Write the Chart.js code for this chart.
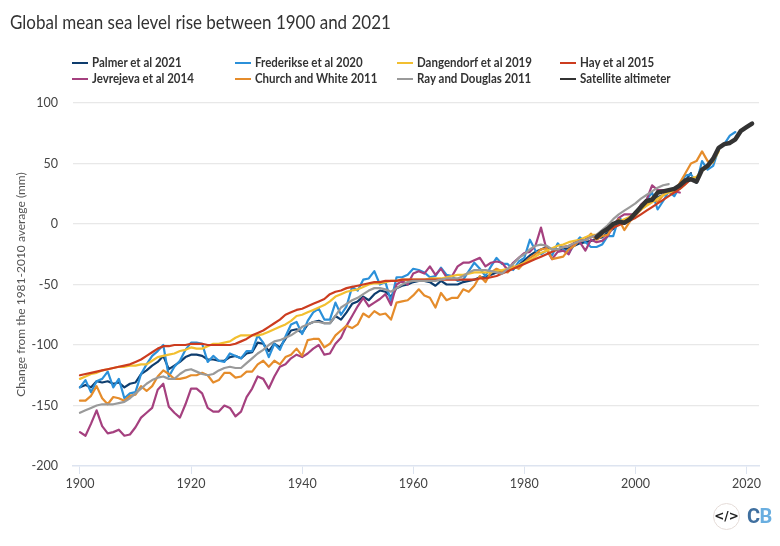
<!DOCTYPE html>
<html>
<head>
<meta charset="utf-8">
<title>Global mean sea level rise</title>
<script src="https://cdn.jsdelivr.net/npm/chart.js@4"></script>
<style>
  body { margin: 0; background: #fff; font-family: Lato, "Noto Sans", sans-serif; color: #333; }
  #wrap { position: relative; width: 780px; height: 546px; overflow: hidden; }
  #chart { position: absolute; left: 0; top: 0; }
  #title { position: absolute; left: 10px; top: 9px; font-size: 20px; font-weight: 400; color: #333; white-space: nowrap;
    transform: scaleX(0.85); transform-origin: left center; }
  .key { position: absolute; font-size: 12.5px; font-weight: 700; color: #333; white-space: nowrap; line-height: 16px; }
  .key i { position: absolute; left: -20px; top: 6.5px; width: 16px; height: 2.5px; }
  .key span { display: inline-block; transform: scaleX(0.92); transform-origin: left center; }
  #embed { position: absolute; left: 713px; top: 503px; width: 25px; height: 25px; border: 1px solid #e5dcd8; border-radius: 50%;
    font: 700 12px/25px "DejaVu Sans", sans-serif; text-align: center; color: #222; }
  #cb { position: absolute; left: 747px; top: 504px; font: 700 20px/24px "Roboto", sans-serif; letter-spacing: -0.5px; }
</style>
</head>
<body>
<div id="wrap">
  <canvas id="chart" width="780" height="546"></canvas>
  <div id="title">Global mean sea level rise between 1900 and 2021</div>
  <div id="legend"></div>
  <div id="embed">&lt;/&gt;</div>
  <div id="cb"><span style="color:#3f6f9f">C</span><span style="color:#69aee0">B</span></div>
</div>
<script>
// values in mm, one per year from the start year of each series
var palmer = [
  -135,-133,-135,-130,-131,-130,-132,-131,-135,-132,
  -131,-124,-121,-117,-114,-109,-120,-117,-114,-110,
  -108,-108,-109,-112,-112,-113,-113,-110,-109,-111,
  -107,-106,-98,-99,-105,-99,-102,-95,-88,-87,
  -90,-83,-81,-80,-82,-82,-76,-79,-73,-66,
  -64,-60,-63,-58,-55,-56,-60,-53,-51,-50,
  -48,-47,-47,-48,-51,-47,-50,-50,-50,-48,
  -47,-46,-44,-44,-42,-40,-39,-38,-37,-34,
  -30,-26,-23,-21,-19,-21,-21,-21,-20,-18,
  -16,-15,-14,-12,-11,-7,-4,0,3,5,
  9,12,16,20,22,24,27,27,30,36,
  42
];
var frederikse = [
  -135,-129,-139,-130,-128,-122,-135,-128,-144,-140,
  -139,-124,-116,-109,-105,-100,-126,-118,-113,-104,
  -98,-98,-99,-114,-109,-113,-114,-107,-109,-111,
  -105,-105,-92,-98,-110,-99,-104,-93,-83,-81,
  -91,-80,-73,-70,-79,-79,-65,-75,-68,-52,
  -55,-46,-45,-39,-50,-48,-64,-44,-44,-42,
  -37,-38,-40,-44,-43,-36,-42,-43,-47,-46,
  -39,-32,-37,-43,-35,-28,-33,-33,-38,-31,
  -28,-13,-22,-25,-22,-26,-16,-21,-24,-17,
  -11,-15,-19,-19,-17,-10,-10,5,2,4,
  8,12,20,26,12,19,27,23,31,40,
  41,34,52,45,48,62,66,73,76
];
var dangendorf = [
  -128,-126,-124,-123,-121,-120,-119,-118,-118,-117,
  -117,-116,-116,-113,-110,-109,-108,-107,-105,-104,
  -102,-103,-103,-101,-99,-99,-98,-97,-94,-92,
  -92,-92,-92,-91,-89,-87,-85,-83,-80,-76,
  -75,-73,-71,-69,-67,-64,-60,-58,-56,-55,
  -54,-52,-50,-49,-49,-48,-47,-47,-46,-46,
  -46,-46,-46,-45,-45,-45,-44,-43,-42,-42,
  -41,-40,-40,-40,-40,-39,-38,-37,-36,-34,
  -32,-30,-27,-24,-22,-20,-18,-17,-15,-14,
  -13,-11,-9,-9,-6,-4,-1,2,4,6,
  9,12,15,18,21,24,26,27,29,33,
  38,39,44,47,52,60
];
var hay = [
  -125,-124,-123,-122,-121,-120,-119,-118,-117,-116,
  -114,-112,-109,-106,-103,-101,-101,-100,-100,-100,
  -99,-99,-99,-100,-100,-100,-100,-100,-99,-97,
  -95,-92,-90,-88,-85,-82,-79,-75,-73,-71,
  -70,-68,-66,-64,-62,-58,-56,-55,-53,-52,
  -51,-50,-49,-48,-48,-47,-47,-47,-46,-46,
  -46,-46,-46,-46,-46,-46,-46,-46,-46,-46,
  -46,-46,-45,-45,-44,-43,-41,-39,-37,-35,
  -33,-31,-29,-27,-25,-23,-21,-19,-18,-16,
  -14,-13,-11,-9,-7,-5,-3,-1,1,3,
  5,8,11,14,17,20,23,26,29,33,
  37
];
var jevrejeva = [
  -172,-175,-165,-154,-167,-173,-172,-170,-175,-174,
  -168,-160,-156,-152,-137,-132,-151,-156,-160,-149,
  -136,-136,-140,-152,-155,-155,-150,-152,-159,-155,
  -143,-136,-126,-128,-136,-126,-118,-116,-111,-108,
  -110,-107,-103,-100,-108,-107,-99,-94,-84,-76,
  -68,-61,-68,-65,-62,-58,-67,-50,-47,-50,
  -41,-39,-41,-35,-42,-37,-44,-43,-35,-32,
  -32,-30,-28,-35,-32,-31,-32,-38,-32,-28,
  -24,-23,-18,-3,-21,-29,-23,-22,-25,-15,
  -15,-22,-13,-15,-14,-10,-2,5,8,8,
  8,16,20,32,28,28,28,27,26
];
var church = [
  -146,-146,-142,-134,-144,-149,-143,-144,-146,-142,
  -141,-134,-138,-134,-126,-121,-124,-128,-128,-127,
  -125,-125,-123,-125,-131,-129,-123,-123,-127,-126,
  -122,-122,-116,-113,-118,-113,-116,-110,-108,-103,
  -109,-96,-95,-95,-102,-99,-92,-88,-84,-86,
  -83,-74,-77,-72,-75,-74,-79,-65,-64,-63,
  -59,-54,-59,-61,-69,-57,-63,-61,-61,-54,
  -56,-51,-43,-48,-40,-37,-39,-40,-35,-37,
  -32,-28,-25,-21,-20,-29,-28,-27,-21,-18,
  -13,-13,-8,-13,-10,-9,-2,4,-5,2,
  7,12,16,22,18,24,27,27,34,42,
  50,52,60,52,51
];
var ray = [
  -156,-154,-152,-150,-149,-149,-149,-148,-147,-144,
  -140,-136,-132,-129,-127,-126,-128,-128,-124,-121,
  -120,-122,-124,-125,-124,-121,-119,-118,-119,-119,
  -115,-111,-107,-104,-100,-97,-96,-94,-92,-89,
  -85,-83,-81,-81,-82,-82,-76,-69,-66,-63,
  -61,-58,-55,-53,-53,-54,-56,-53,-50,-48,
  -47,-47,-47,-47,-47,-46,-45,-45,-45,-43,
  -40,-38,-38,-38,-39,-40,-41,-37,-33,-28,
  -25,-21,-18,-17,-18,-21,-21,-19,-18,-16,
  -14,-13,-11,-9,-5,-1,4,8,11,14,
  17,21,24,27,30,32,33
];
var satellite = [
  -11,-7,-4,0,2,1,4,9,14,19,
  20,26,27,28,29,32,36,37,35,45,
  48,54,63,66,67,70,77,80,83
];
var tickYears = [1900, 1920, 1940, 1960, 1980, 2000, 2020];
var startYear = 1900;
var satelliteStart = 1993;

function toPoints(values, first){
  return values.map(function(v, i){ return { x: first + i, y: v }; });
}

function line(label, values, color, first, width){
  return {
    label: label,
    data: toPoints(values, first),
    borderColor: color,
    backgroundColor: color,
    borderWidth: width,
    pointRadius: 0,
    tension: 0,
    borderJoinStyle: 'round',
    borderCapStyle: 'round'
  };
}

// first dataset in the list is painted on top
var datasets = [
  line('Satellite altimeter', satellite, '#333333', satelliteStart, 4.5),
  line('Ray and Douglas 2011', ray, '#9a9a9a', startYear, 2.2),
  line('Hay et al 2015', hay, '#cc3c1f', startYear, 2.2),
  line('Dangendorf et al 2019', dangendorf, '#f2bf30', startYear, 2.2),
  line('Church and White 2011', church, '#e58c2b', startYear, 2.2),
  line('Jevrejeva et al 2014', jevrejeva, '#a5407f', startYear, 2.2),
  line('Frederikse et al 2020', frederikse, '#2b90d9', startYear, 2.2),
  line('Palmer et al 2021', palmer, '#0e3d6e', startYear, 2.2)
];

// legend reads across in the source's order
var legendRows = [
  ['Palmer et al 2021', 'Frederikse et al 2020', 'Dangendorf et al 2019', 'Hay et al 2015'],
  ['Jevrejeva et al 2014', 'Church and White 2011', 'Ray and Douglas 2011', 'Satellite altimeter']
];
var legendX = [92, 255, 417, 580];
var legendY = [55, 71];

var legendEl = document.getElementById('legend');
legendRows.forEach(function(row, r){
  row.forEach(function(name, c){
    var ds = datasets.filter(function(d){ return d.label === name; })[0];
    var el = document.createElement('div');
    el.className = 'key';
    el.style.left = legendX[c] + 'px';
    el.style.top = legendY[r] + 'px';
    el.innerHTML = '<i style="background:' + ds.borderColor + '"></i><span>' + name + '</span>';
    legendEl.appendChild(el);
  });
});

new Chart(document.getElementById('chart').getContext('2d'), {
  type: 'line',
  data: { datasets: datasets },
  options: {
    responsive: false,
    animation: false,
    layout: { padding: { top: 103, right: 21, bottom: 0, left: 0 } },
    plugins: { legend: { display: false }, title: { display: false }, tooltip: { enabled: false } },
    scales: {
      x: {
        type: 'linear',
        min: 1898.75,
        max: 2022.25,
        afterBuildTicks: function(scale){
          scale.ticks = tickYears.map(function(y){ return { value: y }; });
        },
        afterFit: function(scale){ scale.height = 80; },
        border: { color: '#dde4f0', width: 1.5 },
        grid: { drawOnChartArea: false, color: '#dde4f0', tickLength: 8 },
        ticks: {
          maxRotation: 0,
          color: '#444',
          padding: 2,
          font: { family: 'Lato', size: 12.5 },
          callback: function(v){ return String(v); }
        }
      },
      y: {
        min: -200,
        max: 100,
        afterFit: function(scale){ scale.width = 73; },
        border: { display: false },
        grid: {
          drawTicks: false,
          lineWidth: 1.2,
          color: function(ctx){ return ctx.tick && ctx.tick.value === -200 ? 'rgba(0,0,0,0)' : '#e8e8e8'; }
        },
        ticks: {
          stepSize: 50,
          color: '#444',
          padding: 15,
          font: { family: 'Lato', size: 12.5 }
        },
        title: {
          display: true,
          text: 'Change from the 1981-2010 average (mm)',
          color: '#555',
          padding: { top: 14, bottom: 0 },
          font: { family: 'Lato', size: 12 }
        }
      }
    }
  }
});
</script>
</body>
</html>
